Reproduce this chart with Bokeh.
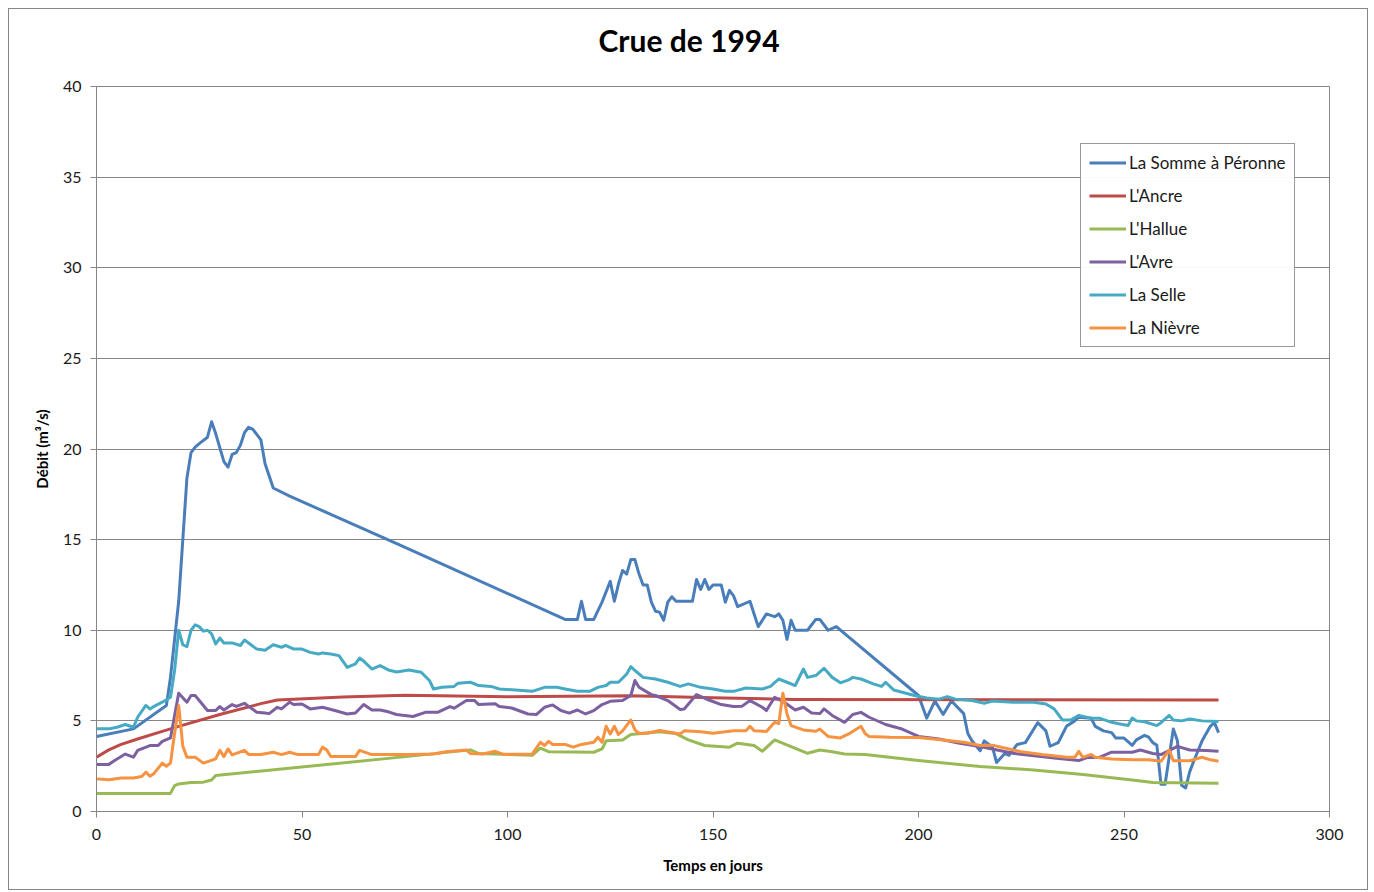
from bokeh.plotting import figure
from bokeh.models import Range1d, Legend, LegendItem, FixedTicker, Title
from bokeh.embed import file_html
from bokeh.resources import INLINE

# ---------------- data (day, discharge m3/s) ----------------
somme_day = [0, 9, 17, 18, 20, 22, 23, 24, 25, 27, 28, 29, 31, 32, 33, 34, 35, 36, 37, 38, 40, 41, 43, 47,
             74, 114, 117, 118, 119, 121, 123, 125, 126, 127, 128, 129, 130, 131, 132, 133, 134, 135, 136,
             137, 138, 139, 140, 141, 145, 146, 147, 148, 149, 150, 152, 153, 154, 155, 156, 159, 160, 161,
             163, 165, 166, 167, 168, 169, 170, 173, 175, 176, 178, 180, 200, 202, 204, 206, 208, 211, 212,
             213, 215, 216, 218, 219, 221, 222, 224, 226, 229, 231, 232, 234, 235, 236, 238, 239, 242, 243,
             245, 247, 248, 250, 252, 253, 255, 256, 257, 258, 259, 260, 262, 263, 264, 265, 266, 267, 269,
             271, 272, 273]
somme_q = [4.14, 4.56, 5.85, 7.4, 11.6, 18.4, 19.8, 20.1, 20.3, 20.65, 21.5, 20.85, 19.3, 19.0, 19.7, 19.8,
           20.2, 20.9, 21.2, 21.1, 20.5, 19.2, 17.85, 17.4,
           14.68, 10.6, 10.6, 11.6, 10.6, 10.6, 11.55, 12.7, 11.6, 12.55, 13.3, 13.1, 13.9, 13.9, 13.1,
           12.5, 12.5, 11.55, 11.05, 11.0, 10.55, 11.55, 11.85, 11.6, 11.6, 12.8, 12.25, 12.8, 12.25, 12.5,
           12.5, 11.55, 12.2, 11.9, 11.3, 11.6, 10.9, 10.2, 10.9, 10.75, 10.9, 10.55, 9.5, 10.55, 10.0,
           10.0, 10.6, 10.6, 10.0, 10.2, 6.4, 5.15, 6.1, 5.35, 6.1, 5.4, 4.3, 3.9, 3.35, 3.9, 3.55, 2.7,
           3.2, 3.1, 3.7, 3.8, 4.9, 4.45, 3.6, 3.8, 4.25, 4.7, 5.0, 5.2, 5.15, 4.7, 4.45, 4.35, 4.05, 4.05,
           3.65, 3.95, 4.2, 4.1, 3.8, 3.65, 1.5, 1.5, 4.55, 3.9, 1.45, 1.3, 2.2, 2.8, 3.9, 4.7, 4.9, 4.35]

ancre_day = [0, 3, 6, 10, 15, 20, 30, 40, 44, 60, 75, 100, 130, 150, 170, 273]
ancre_q = [3.0, 3.4, 3.7, 4.0, 4.35, 4.7, 5.35, 5.95, 6.15, 6.32, 6.42, 6.33, 6.38, 6.27, 6.18, 6.15]

hallue_day = [0, 18, 19, 20, 23, 26, 28, 29, 32, 74, 91, 93, 106, 108, 110, 121, 123, 124, 128, 130, 137,
              141, 144, 148, 154, 156, 160, 162, 165, 169, 173, 176, 179, 182, 187, 200, 215, 228, 240,
              252, 257, 273]
hallue_q = [1.0, 1.0, 1.43, 1.52, 1.6, 1.62, 1.74, 1.99, 2.05, 3.0, 3.4, 3.2, 3.1, 3.5, 3.3, 3.27, 3.45,
            3.9, 3.95, 4.25, 4.4, 4.3, 3.95, 3.64, 3.55, 3.77, 3.64, 3.32, 3.95, 3.58, 3.21, 3.39, 3.3,
            3.17, 3.14, 2.81, 2.48, 2.29, 2.04, 1.74, 1.6, 1.56]

avre_day = [0, 3, 5, 7, 9, 10, 13, 15, 16, 18, 20, 22, 23, 24, 27, 29, 30, 31, 33, 34, 36, 37, 39, 41, 42,
            44, 45, 47, 48, 50, 52, 55, 58, 61, 63, 65, 67, 69, 71, 73, 77, 80, 83, 86, 87, 90, 92, 93, 97,
            98, 101, 105, 107, 109, 111, 113, 115, 117, 119, 121, 123, 125, 128, 130, 131, 132, 135, 136,
            139, 142, 143, 146, 149, 152, 155, 157, 159, 162, 163, 165, 167, 170, 172, 174, 176, 177, 179,
            182, 184, 186, 188, 192, 196, 200, 205, 210, 215, 223, 233, 239, 241, 244, 247, 252, 254, 257,
            259, 263, 266, 270, 273]
avre_q = [2.6, 2.6, 2.9, 3.17, 3.0, 3.37, 3.64, 3.64, 3.87, 4.06, 6.53, 6.03, 6.4, 6.4, 5.57, 5.57, 5.79,
          5.6, 5.9, 5.8, 5.97, 5.8, 5.48, 5.43, 5.4, 5.75, 5.66, 6.03, 5.9, 5.93, 5.66, 5.75, 5.57, 5.38,
          5.43, 5.9, 5.6, 5.6, 5.5, 5.35, 5.24, 5.47, 5.47, 5.79, 5.7, 6.12, 6.12, 5.9, 5.94, 5.79, 5.71,
          5.38, 5.35, 5.75, 5.88, 5.57, 5.43, 5.6, 5.38, 5.57, 5.9, 6.08, 6.12, 6.4, 7.23, 6.86, 6.45, 6.4,
          6.12, 5.63, 5.66, 6.45, 6.15, 5.9, 5.79, 5.8, 6.12, 5.75, 5.57, 6.3, 6.08, 5.6, 5.75, 5.43, 5.4,
          5.66, 5.3, 4.92, 5.35, 5.47, 5.2, 4.8, 4.55, 4.14, 4.0, 3.77, 3.59, 3.21, 2.95, 2.81, 2.98, 2.98,
          3.27, 3.27, 3.39, 3.2, 3.14, 3.59, 3.39, 3.37, 3.32]

selle_day = [0, 3, 5, 7, 9, 10, 12, 13, 14, 16, 18, 19, 20, 21, 22, 23, 24, 25, 26, 27, 28, 29, 30, 31, 33,
             35, 36, 37, 39, 41, 43, 45, 46, 48, 50, 52, 54, 55, 57, 59, 61, 63, 64, 65, 67, 69, 71, 73,
             76, 79, 81, 82, 84, 87, 88, 91, 93, 96, 98, 102, 106, 109, 112, 114, 117, 120, 122, 124, 125,
             127, 129, 130, 131, 133, 136, 139, 142, 144, 147, 150, 153, 155, 158, 162, 164, 166, 168, 170,
             172, 173, 175, 177, 179, 181, 183, 184, 186, 189, 191, 192, 194, 199, 202, 205, 207, 209, 213,
             216, 218, 223, 228, 231, 233, 235, 237, 239, 242, 244, 247, 249, 251, 252, 253, 255, 258, 259,
             261, 262, 264, 266, 269, 273]
selle_q = [4.56, 4.56, 4.65, 4.8, 4.65, 5.2, 5.85, 5.66, 5.8, 6.03, 6.3, 7.78, 10.0, 9.2, 9.1, 10.0, 10.3,
           10.2, 9.95, 10.0, 9.8, 9.24, 9.57, 9.3, 9.3, 9.16, 9.46, 9.3, 8.96, 8.9, 9.2, 9.06, 9.16, 8.96,
           8.96, 8.78, 8.69, 8.75, 8.69, 8.6, 7.95, 8.14, 8.47, 8.3, 7.86, 8.05, 7.81, 7.7, 7.81, 7.68,
           7.23, 6.76, 6.85, 6.9, 7.08, 7.13, 6.95, 6.9, 6.76, 6.7, 6.63, 6.85, 6.85, 6.76, 6.63, 6.63,
           6.85, 6.95, 7.13, 7.13, 7.59, 7.99, 7.78, 7.4, 7.31, 7.13, 6.9, 7.04, 6.85, 6.76, 6.63, 6.63,
           6.81, 6.76, 6.9, 7.31, 7.13, 6.95, 7.86, 7.4, 7.5, 7.9, 7.4, 7.1, 7.26, 7.4, 7.31, 7.04, 6.9,
           7.13, 6.7, 6.4, 6.26, 6.2, 6.34, 6.2, 6.12, 5.97, 6.1, 6.03, 6.03, 5.93, 5.66, 5.05, 5.05, 5.3,
           5.15, 5.15, 4.92, 4.83, 4.74, 5.16, 5.0, 4.95, 4.74, 4.9, 5.3, 5.05, 5.0, 5.1, 5.0, 4.97]

nievre_day = [0, 3, 6, 9, 11, 12, 13, 14, 16, 17, 18, 19, 20, 21, 22, 24, 26, 29, 30, 31, 32, 33, 36, 37,
              40, 43, 45, 47, 49, 54, 55, 56, 57, 63, 64, 67, 76, 82, 85, 90, 91, 94, 97, 99, 106, 108,
              109, 110, 111, 114, 116, 118, 121, 122, 123, 124, 125, 126, 127, 128, 130, 131, 132, 134,
              137, 142, 143, 147, 150, 155, 158, 159, 160, 163, 165, 166, 167, 168, 169, 172, 175, 176,
              178, 181, 183, 186, 187, 188, 193, 200, 206, 211, 215, 218, 222, 225, 230, 236, 238, 239,
              240, 242, 243, 247, 252, 256, 259, 261, 262, 266, 269, 271, 273]
nievre_q = [1.8, 1.75, 1.85, 1.85, 1.93, 2.17, 1.95, 2.1, 2.67, 2.5, 2.67, 4.3, 5.85, 3.6, 3.0, 3.0, 2.67,
            2.9, 3.37, 3.03, 3.45, 3.12, 3.37, 3.15, 3.15, 3.27, 3.14, 3.27, 3.14, 3.14, 3.55, 3.4, 3.03,
            3.03, 3.37, 3.14, 3.14, 3.17, 3.3, 3.39, 3.2, 3.17, 3.32, 3.15, 3.17, 3.82, 3.64, 3.87, 3.7,
            3.7, 3.55, 3.7, 3.82, 4.1, 3.82, 4.7, 4.28, 4.7, 4.25, 4.45, 5.05, 4.5, 4.32, 4.32, 4.47, 4.28,
            4.45, 4.4, 4.32, 4.45, 4.45, 4.7, 4.45, 4.42, 4.92, 4.85, 6.53, 5.38, 4.74, 4.5, 4.43, 4.55,
            4.14, 4.06, 4.28, 4.7, 4.3, 4.14, 4.1, 4.08, 3.95, 3.82, 3.64, 3.66, 3.45, 3.3, 3.14, 2.99,
            2.99, 3.32, 2.99, 3.15, 2.99, 2.9, 2.85, 2.85, 2.77, 3.39, 2.8, 2.8, 2.99, 2.85, 2.77]

series_names = ["La Somme à Péronne", "L'Ancre", "L'Hallue", "L'Avre", "La Selle", "La Nièvre"]
series_colors = ["#4A7EBB", "#BE4B48", "#98B954", "#7D60A0", "#46AAC5", "#F69240"]
series_data = [(somme_day, somme_q), (ancre_day, ancre_q), (hallue_day, hallue_q),
               (avre_day, avre_q), (selle_day, selle_q), (nievre_day, nievre_q)]

x_ticks = [0, 50, 100, 150, 200, 250, 300]
y_ticks = [0, 5, 10, 15, 20, 25, 30, 35, 40]

FONT = "Lato"
GRAY = "#868686"

p = figure(width=1360, height=882, output_backend="svg", toolbar_location=None,
           x_range=Range1d(0, 300), y_range=Range1d(0, 40),
           min_border_left=87, min_border_right=40, min_border_top=77, min_border_bottom=80)
p.styles = {"border": "1px solid " + GRAY, "margin-left": "8px", "margin-top": "8px"}

p.outline_line_color = GRAY
p.outline_line_width = 1
p.xgrid.grid_line_color = None
p.ygrid.grid_line_color = GRAY
p.ygrid.grid_line_width = 1

p.xaxis.ticker = FixedTicker(ticks=x_ticks)
p.yaxis.ticker = FixedTicker(ticks=y_ticks)
for ax in (p.xaxis[0], p.yaxis[0]):
    ax.axis_line_color = GRAY
    ax.major_tick_line_color = GRAY
    ax.major_tick_out = 6
    ax.major_tick_in = 0
    ax.minor_tick_line_color = None
    ax.major_label_text_font = FONT
    ax.major_label_text_font_size = "16px"
    ax.major_label_text_color = "#1a1a1a"
    ax.axis_label_text_font = FONT
    ax.axis_label_text_font_size = "15px"
    ax.axis_label_text_font_style = "bold"
    ax.axis_label_text_color = "#000000"

p.xaxis.axis_label = "Temps en jours"
p.yaxis.axis_label = "Débit (m³/s)"
p.xaxis.major_label_standoff = 11
p.xaxis.axis_label_standoff = 13
p.yaxis.major_label_standoff = 9
p.yaxis.axis_label_standoff = 9

items = []
for name, color, (d, q) in zip(series_names, series_colors, series_data):
    r = p.line(d, q, line_color=color, line_width=3, line_join="round")
    items.append(LegendItem(label=name, renderers=[r]))

legend = Legend(items=items, location=(984, 464))
legend.label_text_font = FONT
legend.label_text_font_size = "17px"
legend.label_text_color = "#1a1a1a"
legend.border_line_color = "#333333"
legend.border_line_width = 1
legend.padding = 8
legend.spacing = 12
legend.label_height = 21
legend.glyph_height = 21
legend.glyph_width = 37
legend.label_standoff = 3
legend.margin = 0
p.add_layout(legend, "center")

# empty spacer panel between the frame and the chart title
spacer = Title(text=" ", standoff=26, text_font_size="1px")
p.add_layout(spacer, "above")
title = Title(text="Crue de 1994", align="left", offset=502, standoff=0,
              text_font=FONT, text_font_size="30px", text_font_style="bold", text_color="#000000")
p.add_layout(title, "above")

open("out.html", "w").write(file_html(p, INLINE))
